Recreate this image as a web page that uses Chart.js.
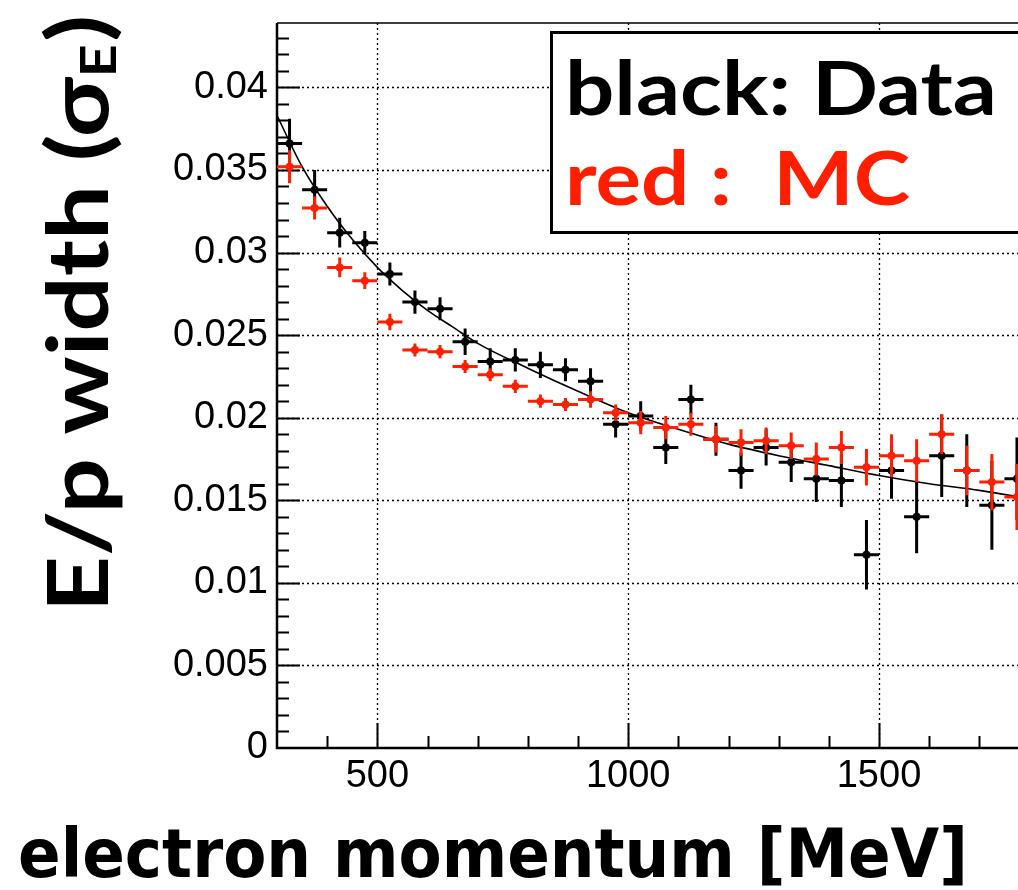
<!DOCTYPE html>
<html>
<head>
<meta charset="utf-8">
<title>E/p width vs electron momentum</title>
<script src="https://cdn.jsdelivr.net/npm/chart.js@4.4.1/dist/chart.umd.min.js"></script>
<style>
  html, body { margin: 0; padding: 0; background: #fff; overflow: hidden; }
  #wrap { position: relative; width: 1018px; height: 890px; overflow: hidden; }
  #plot { position: absolute; left: 0; top: 0; }
</style>
</head>
<body>
<div id="wrap"><canvas id="plot" width="1200" height="890"></canvas></div>
<script>
// momentum bins (MeV), 50 MeV wide
const BIN_CENTERS = [325, 375, 425, 475, 525, 575, 625, 675, 725, 775,
                     825, 875, 925, 975, 1025, 1075, 1125, 1175, 1225, 1275,
                     1325, 1375, 1425, 1475, 1525, 1575, 1625, 1675, 1725, 1775];
const BIN_HALF = 25;

// measured E/p width
const DATA_SIGMA = [0.0366, 0.0338, 0.0312, 0.0306, 0.0287, 0.0270, 0.0266, 0.0246, 0.0234, 0.0235,
                    0.0232, 0.0229, 0.0222, 0.0196, 0.0201, 0.0182, 0.0211, 0.0187, 0.0168, 0.0182,
                    0.0173, 0.0163, 0.0162, 0.0117, 0.0168, 0.0140, 0.0177, 0.0168, 0.0147, 0.0163];
const DATA_ERR   = [0.0015, 0.0012, 0.0009, 0.0007, 0.0007, 0.0007, 0.0007, 0.0008, 0.0008, 0.0007,
                    0.0008, 0.0007, 0.0008, 0.0008, 0.0009, 0.0010, 0.0009, 0.0010, 0.0011, 0.0011,
                    0.0012, 0.0014, 0.0016, 0.0021, 0.0017, 0.0022, 0.0025, 0.0022, 0.0027, 0.0025];

// simulation
const MC_SIGMA = [0.0352, 0.0327, 0.0291, 0.0283, 0.0258, 0.0241, 0.0240, 0.0231, 0.0226, 0.0219,
                  0.0210, 0.0208, 0.0211, 0.0203, 0.0197, 0.0194, 0.0196, 0.0187, 0.0185, 0.0186,
                  0.0183, 0.0175, 0.0182, 0.0170, 0.0177, 0.0174, 0.0190, 0.0168, 0.0161, 0.0152];
const MC_ERR   = [0.0010, 0.0007, 0.0006, 0.0005, 0.0005, 0.0004, 0.0004, 0.0004, 0.0004, 0.0004,
                  0.0004, 0.0004, 0.0005, 0.0005, 0.0007, 0.0007, 0.0007, 0.0008, 0.0008, 0.0008,
                  0.0008, 0.0010, 0.0010, 0.0011, 0.0013, 0.0013, 0.0012, 0.0015, 0.0017, 0.0020];

// fitted resolution curve
const FIT_P     = [300, 350, 400, 450, 500, 550, 600, 650, 700, 800, 900, 1000,
                   1100, 1200, 1300, 1400, 1500, 1600, 1700, 1800];
const FIT_SIGMA = [0.0383, 0.0352, 0.0328, 0.0308, 0.0291, 0.0277, 0.0265, 0.0255, 0.0245, 0.0230, 0.0216, 0.0203,
                   0.0193, 0.0184, 0.0177, 0.0171, 0.0165, 0.0160, 0.0156, 0.0151];

// axis ranges and labelled ticks
const X_MIN = 300, X_MAX = 2100, X_MINOR = 100;
const X_TICKS = [500, 1000, 1500, 2000];
const Y_MIN = 0, Y_MAX = 0.0439, Y_MINOR = 0.001;
const Y_TICKS = [0, 0.005, 0.01, 0.015, 0.02, 0.025, 0.03, 0.035, 0.04];

const RED = '#ff1e00';
const toPts = (xs, ys) => xs.map((x, i) => ({ x, y: ys[i] }));

// --- error bars, drawn just before each dataset's markers ---
const errorBars = {
  id: 'errorBars',
  beforeDatasetDraw(chart, args) {
    const ds = chart.data.datasets[args.index];
    if (!ds.errors) return;
    const { ctx, scales: { x, y } } = chart;
    ctx.save();
    ctx.strokeStyle = ds.borderColor;
    ctx.lineWidth = 3;
    ds.data.forEach((p, i) => {
      const px = x.getPixelForValue(p.x), py = y.getPixelForValue(p.y);
      ctx.beginPath();
      ctx.moveTo(x.getPixelForValue(p.x - BIN_HALF), py);
      ctx.lineTo(x.getPixelForValue(p.x + BIN_HALF), py);
      ctx.moveTo(px, y.getPixelForValue(p.y - ds.errors[i]));
      ctx.lineTo(px, y.getPixelForValue(p.y + ds.errors[i]));
      ctx.stroke();
    });
    ctx.restore();
  }
};

// --- dotted grid, inner tick marks and frame ---
const frame = {
  id: 'frame',
  beforeDatasetsDraw(chart) {
    const { ctx, chartArea: a, scales: { x, y } } = chart;
    ctx.save();
    ctx.strokeStyle = '#000';
    ctx.lineWidth = 1.3;
    ctx.setLineDash([2, 3]);
    ctx.beginPath();
    Y_TICKS.forEach(v => {
      if (v <= Y_MIN) return;
      const py = Math.round(y.getPixelForValue(v)) + 0.5;
      ctx.moveTo(a.left, py); ctx.lineTo(a.right, py);
    });
    X_TICKS.forEach(v => {
      const px = Math.round(x.getPixelForValue(v)) + 0.5;
      ctx.moveTo(px, a.top); ctx.lineTo(px, a.bottom);
    });
    ctx.stroke();
    ctx.setLineDash([]);

    ctx.lineWidth = 2;
    ctx.beginPath();
    for (let i = 1; i * Y_MINOR < Y_MAX; i++) {
      const py = Math.round(y.getPixelForValue(i * Y_MINOR)) + 0.5;
      const len = i % 5 === 0 ? 23 : 12;
      ctx.moveTo(a.left, py); ctx.lineTo(a.left + len, py);
    }
    for (let v = X_MIN + X_MINOR; v < X_MAX; v += X_MINOR) {
      const px = Math.round(x.getPixelForValue(v)) + 0.5;
      const len = X_TICKS.includes(v) ? 25 : 12;
      ctx.moveTo(px, a.bottom); ctx.lineTo(px, a.bottom - len);
    }
    ctx.stroke();

    ctx.lineWidth = 2.5;
    ctx.beginPath();
    ctx.moveTo(a.left, a.top); ctx.lineTo(a.left, a.bottom); ctx.lineTo(a.right, a.bottom);
    ctx.stroke();
    ctx.lineWidth = 1.5;
    ctx.beginPath();
    ctx.moveTo(a.left, a.top); ctx.lineTo(a.right, a.top); ctx.lineTo(a.right, a.bottom);
    ctx.stroke();
    ctx.restore();
  }
};

// text squeezed/stretched to a given width
function fitText(ctx, text, x, y, width) {
  const w = ctx.measureText(text).width;
  ctx.save();
  ctx.translate(x, y);
  ctx.scale(width / w, 1);
  ctx.fillText(text, 0, 0);
  ctx.restore();
}

// --- axis titles and the legend box ---
const labels = {
  id: 'labels',
  afterDraw(chart) {
    const { ctx } = chart;
    ctx.save();
    ctx.fillStyle = '#000';
    ctx.textBaseline = 'alphabetic';
    ctx.textAlign = 'left';

    // x title
    ctx.font = 'bold 68px "DejaVu Sans"';
    fitText(ctx, 'electron momentum [MeV]', 18, 877, 950);

    // y title, rotated, with subscript E
    const big = 'bold 84px Lato', small = 'bold 50px Lato';
    ctx.font = big;
    const w1 = ctx.measureText('E/p width (σ').width;
    const w3 = ctx.measureText(')').width;
    ctx.font = small;
    const w2 = ctx.measureText('E').width + 2;
    const total = w1 + w2 + w3;
    ctx.translate(108, 612);
    ctx.rotate(-Math.PI / 2);
    ctx.scale(597 / total, 1);
    ctx.font = big;
    ctx.fillText('E/p width (σ', 0, 0);
    ctx.font = small;
    ctx.fillText('E', w1, 8);
    ctx.font = big;
    ctx.fillText(')', w1 + w2, 0);
    ctx.setTransform(1, 0, 0, 1, 0, 0);

    // legend box
    ctx.fillStyle = '#fff';
    ctx.fillRect(551, 32, 640, 200);
    ctx.strokeStyle = '#000';
    ctx.lineWidth = 3;
    ctx.strokeRect(551.5, 32.5, 640, 200);
    ctx.font = 'bold 74px Lato';
    ctx.fillStyle = '#000';
    fitText(ctx, 'black: Data', 565, 115, 432);
    ctx.fillStyle = RED;
    fitText(ctx, 'red :  MC', 565, 205, 345);
    ctx.restore();
  }
};

const tickFont = { family: '"Liberation Sans", Arial, sans-serif', size: 38 };

new Chart(document.getElementById('plot'), {
  type: 'scatter',
  data: {
    datasets: [
      {
        label: 'MC',
        data: toPts(BIN_CENTERS, MC_SIGMA),
        errors: MC_ERR,
        borderColor: RED,
        backgroundColor: RED,
        pointRadius: 4,
        pointBorderWidth: 0,
        order: 0
      },
      {
        label: 'fit',
        data: toPts(FIT_P, FIT_SIGMA),
        showLine: true,
        borderColor: '#000',
        borderWidth: 1.6,
        pointRadius: 0,
        cubicInterpolationMode: 'monotone',
        order: 1
      },
      {
        label: 'Data',
        data: toPts(BIN_CENTERS, DATA_SIGMA),
        errors: DATA_ERR,
        borderColor: '#000',
        backgroundColor: '#000',
        pointRadius: 4,
        pointBorderWidth: 0,
        order: 2
      }
    ]
  },
  options: {
    responsive: false,
    animation: false,
    layout: { padding: { top: 23, left: 0, right: 20, bottom: 0 } },
    plugins: { legend: { display: false }, tooltip: { enabled: false } },
    scales: {
      x: {
        type: 'linear',
        min: X_MIN, max: X_MAX,
        grid: { display: false, drawTicks: false },
        border: { display: false },
        ticks: { color: '#000', font: tickFont, padding: 6, maxRotation: 0, autoSkip: false, callback: v => String(v) },
        afterBuildTicks: s => { s.ticks = X_TICKS.map(value => ({ value })); },
        afterFit: s => { s.height = 142; s.paddingLeft = 0; s.paddingRight = 0; }
      },
      y: {
        type: 'linear',
        min: Y_MIN, max: Y_MAX,
        grid: { display: false, drawTicks: false },
        border: { display: false },
        ticks: {
          color: '#000', font: tickFont, padding: 9, autoSkip: false,
          callback: v => String(Number(v.toFixed(3)))
        },
        afterBuildTicks: s => { s.ticks = Y_TICKS.map(value => ({ value })); },
        afterFit: s => { s.width = 277; s.paddingTop = 0; s.paddingBottom = 0; }
      }
    }
  },
  plugins: [frame, errorBars, labels]
});
</script>
</body>
</html>
